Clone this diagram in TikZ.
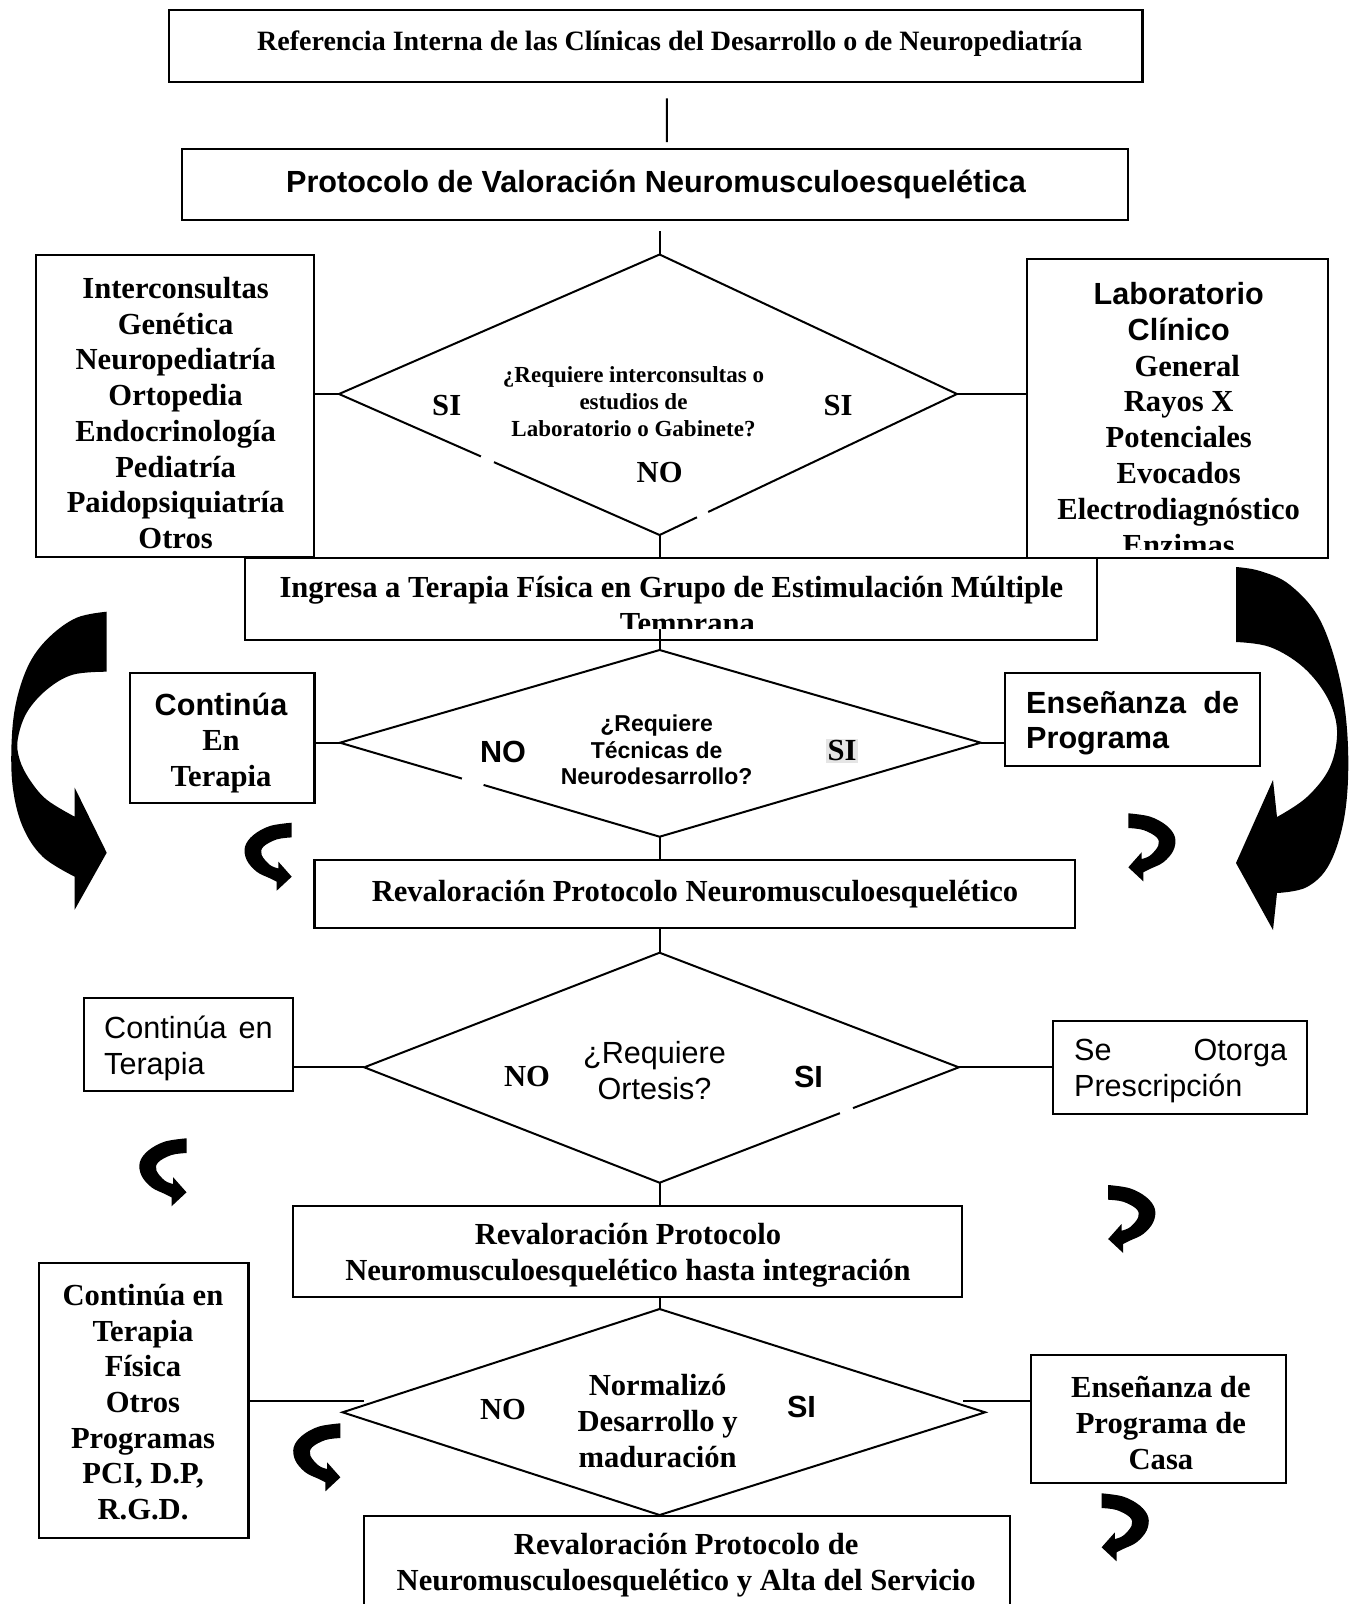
\documentclass[tikz,border=0pt]{standalone}
\usepackage{fontspec}
\setmainfont{Liberation Serif}
\newfontfamily\arialf{Liberation Sans}
\usetikzlibrary{calc}
\newcommand{\myarrowS}{\fill plot[smooth,tension=0.6] coordinates {(0,0) (21.7,3.3) (38.3,12.3) (46.7,24) (45,37.3) (35,49) (21.7,55.6) (15,59)} -- (15,68) -- (0,54) -- (13.3,39) -- plot[smooth,tension=0.6] coordinates {(13.3,45.7) (21.7,42.3) (30,32.3) (28.3,24) (15,16.7) (0,14.7)} -- cycle;}
\newcommand{\myarrowBL}{\fill plot[smooth,tension=0.6] coordinates {(0,0) (30,6) (57,25) (77,51) (90,88) (95,128) (94,175) (84,215) (64,245) (32,265)} -- (32,298) -- (0,241) -- (32,176) -- plot[smooth,tension=0.6] coordinates {(32,205) (60,188) (77,168) (87,148) (89,128) (80,101) (60,78) (34,63) (0,60)} -- cycle;}
\newcommand{\myarrowBR}{\fill plot[smooth,tension=0.6] coordinates {(0,0) (24,4) (54,18) (84,53) (104,113) (112,180) (109,246) (94,296) (71,320) (41,326)} -- (37,363) -- (0,296) -- (37,213) -- plot[smooth,tension=0.6] coordinates {(41,250) (71,230) (94,200) (101,163) (91,130) (67,100) (34,80) (0,75)} -- cycle;}
\begin{document}
\begin{tikzpicture}[x=1pt,y=-1pt,
  box/.style={draw, line width=2.2pt, inner sep=0, fill=white},
  conn/.style={line width=2pt},
  dia/.style={line width=2pt},
  gap/.style={white, line width=5pt},
  tbf/.style={inner sep=0, align=center, font=\fontsize{30.6}{35.7}\selectfont\bfseries},
  abf/.style={inner sep=0, align=center, font=\fontsize{30.6}{35.7}\selectfont\arialf\bfseries},
  arf/.style={inner sep=0, align=left, font=\fontsize{30.6}{36}\selectfont\arialf},
  qtb/.style={inner sep=0, align=center, font=\fontsize{23}{27}\selectfont\bfseries},
  qab/.style={inner sep=0, align=center, font=\fontsize{23}{26.6}\selectfont\arialf\bfseries}
]
\useasboundingbox (0,0) rectangle (1349,1604);
\fill[white] (0,0) rectangle (1349,1604);
\clip (0,0) rectangle (1349,1604);

% boxes
\node[box, minimum width=973.7pt, minimum height=71.6pt] (ref) at (655.55,46) {};
\node[box, minimum width=946pt, minimum height=70.6pt] (prot) at (655,184.6) {};
\node[box, minimum width=278.2pt, minimum height=302.7pt] (lbox1) at (174.9,406) {};
\node[box, minimum width=300.9pt, minimum height=299pt] (rbox1) at (1177.4,408.8) {};
\node[box, minimum width=852.2pt, minimum height=81.7pt] (ingresa) at (671.1,599.2) {};
\node[box, minimum width=184.4pt, minimum height=130.6pt] (lbox2) at (222.2,738) {};
\node[box, minimum width=254.7pt, minimum height=92.4pt] (rbox2) at (1132.4,719.5) {};
\node[box, minimum width=760.8pt, minimum height=68.3pt] (reval1) at (694.8,894.2) {};
\node[box, minimum width=209pt, minimum height=92.7pt] (lbox3) at (188.2,1044.7) {};
\node[box, minimum width=254pt, minimum height=93pt] (rbox3) at (1180.2,1067.5) {};
\node[box, minimum width=669.1pt, minimum height=90.7pt] (reval2) at (627.8,1251.3) {};
\node[box, minimum width=209.5pt, minimum height=275.6pt] (lbox4) at (143.8,1400.5) {};
\node[box, minimum width=254.8pt, minimum height=128.3pt] (rbox4) at (1158.7,1419.2) {};
\node[box, minimum width=645.9pt, minimum height=94pt] (reval3) at (687.25,1563) {};

% diamonds
\coordinate (d1t) at (659.6,254.5); \coordinate (d1l) at (339,394); \coordinate (d1r) at (957,394); \coordinate (d1b) at (659.6,535);
\coordinate (d2t) at (659.6,650); \coordinate (d2l) at (340,742.7); \coordinate (d2r) at (980.7,742.7); \coordinate (d2b) at (659.6,836.7);
\coordinate (d3t) at (659.6,952.7); \coordinate (d3l) at (364.3,1067.3); \coordinate (d3r) at (958.8,1067.3); \coordinate (d3b) at (659.6,1182.7);
\coordinate (d4t) at (659.6,1309); \coordinate (d4l) at (342.6,1412.3); \coordinate (d4r) at (985.1,1412.3); \coordinate (d4b) at (659.6,1515);
\coordinate (d4lc) at (364.3,1401); \coordinate (d4rc) at (963.2,1401);
\draw[dia] (d1t) -- (d1r) -- (d1b) -- (d1l) -- cycle;
\draw[dia] (d2t) -- (d2r) -- (d2b) -- (d2l) -- cycle;
\draw[dia] (d3t) -- (d3r) -- (d3b) -- (d3l) -- cycle;
\draw[dia] (d4t) -- (d4r) -- (d4b) -- (d4l) -- cycle;
% small breaks in the diamond edges
\draw[gap] ($(d1l)!0.443!(d1b)$) -- ($(d1l)!0.483!(d1b)$);
\draw[gap] ($(d1r)!0.837!(d1b)$) -- ($(d1r)!0.874!(d1b)$);
\draw[gap] ($(d2l)!0.382!(d2b)$) -- ($(d2l)!0.449!(d2b)$);
\draw[gap] ($(d3r)!0.354!(d3b)$) -- ($(d3r)!0.397!(d3b)$);

% connectors
\draw[conn] ([xshift=11.3pt,yshift=-15.4pt]ref.south) -- ([xshift=11.8pt,yshift=6.1pt]prot.north);
\draw[conn] ($(prot.south -| d1t)+(0,10)$) -- (d1t);
\draw[conn] (d1b) -- (ingresa.north -| d1b);
\draw[conn] (d2b) -- (reval1.north -| d2b);
\draw[conn] (reval1.south -| d3t) -- (d3t);
\draw[conn] (d3b) -- (reval2.north -| d3b);
\draw[conn] (reval2.south -| d4t) -- (d4t);
\draw[conn] (lbox1.east |- d1l) -- (d1l);
\draw[conn] (d1r) -- (rbox1.west |- d1r);
\draw[conn] (lbox2.east |- d2l) -- (d2l);
\draw[conn] (d2r) -- (rbox2.west |- d2r);
\draw[conn] (lbox3.east |- d3l) -- (d3l);
\draw[conn] (d3r) -- (rbox3.west |- d3r);
\draw[conn] (lbox4.east |- d4lc) -- (d4lc);
\draw[conn] (d4rc) -- (rbox4.west |- d4rc);

% texts
\node[inner sep=0, font=\fontsize{28}{32}\selectfont\bfseries] (t-ref) at (669.8,43.5) {Referencia Interna de las Clínicas del Desarrollo o de Neuropediatría};
\node[abf] (t-prot) at (656,184) {Protocolo de Valoración Neuromusculoesquelética};
\node[tbf] (t-l1) at (175.6,413) {Interconsultas\\Genética\\Neuropediatría\\Ortopedia\\Endocrinología\\Pediatría\\Paidopsiquiatría\\Otros};
\begin{scope}
\clip (1026.9,259.3) rectangle (1327.8,549);
\node[tbf, font=\fontsize{30.6}{35.9}\selectfont\bfseries] (t-r1) at (1178.7,419) {{\arialf Laboratorio}\\{\arialf Clínico}\\\hspace*{17pt}General\\Rayos X\\Potenciales\\Evocados\\Electrodiagnóstico\\Enzimas};
\end{scope}
\node[qtb] (q1) at (633.5,401.5) {¿Requiere interconsultas o\\estudios de\\Laboratorio o Gabinete?};
\node[tbf] (si1l) at (446.7,406) {SI};
\node[tbf] (si1r) at (838,406) {SI};
\node[tbf] (no1) at (659.6,473) {NO};
\begin{scope}
\clip (245,558.3) rectangle (1097.2,628.5);
\node[tbf] (t-ing) at (671.4,608) {Ingresa a Terapia Física en Grupo de Estimulación Múltiple\\\hspace*{32pt}Temprana};
\end{scope}
\draw[conn] ($(ingresa.south -| d2t)+(0,-12)$) -- (d2t);
\node[tbf] (t-l2) at (221,743) {{\arialf Continúa}\\En\\Terapia};
\node[abf, align=left, anchor=west] (t-r2) at (1026,723) {\makebox[213pt][s]{Enseñanza de}\\Programa};
\node[qab] (q2) at (656.6,750) {¿Requiere\\Técnicas de\\Neurodesarrollo?};
\node[abf] (no2) at (503,752) {NO};
\node[tbf, fill=black!10, inner sep=2pt] (si2) at (842,751) {SI};
\node[tbf] (t-rv1) at (695,894) {Revaloración Protocolo Neuromusculoesquelético};
\node[arf, align=center] (q3) at (654.5,1071) {¿Requiere\\Ortesis?};
\node[tbf] (no3) at (527,1077) {NO};
\node[abf] (si3) at (808.5,1077) {SI};
\node[arf, anchor=west] (t-l3) at (104,1048) {\makebox[168.5pt][s]{Continúa en}\\Terapia};
\node[arf, anchor=west] (t-r3) at (1073.9,1071) {\makebox[213pt][s]{Se Otorga}\\Prescripción};
\node[tbf] (t-rv2) at (628,1255) {Revaloración Protocolo\\Neuromusculoesquelético hasta integración};
\node[tbf] (q4) at (657.6,1421) {Normalizó\\Desarrollo y\\maduración};
\node[tbf] (no4) at (503,1409) {NO};
\node[abf] (si4) at (801.5,1407) {SI};
\node[tbf] (t-l4) at (143,1402) {Continúa en\\Terapia\\Física\\Otros\\Programas\\PCI, D.P,\\R.G.D.};
\node[tbf] (t-r4) at (1160.9,1423) {Enseñanza de\\Programa de\\Casa};
\node[tbf] (t-rv3) at (686.2,1565) {Revaloración Protocolo de\\Neuromusculoesquelético y Alta del Servicio};

% curved arrows
\begin{scope}[shift={(106.7,611.7)},xscale=-1]\myarrowBL\end{scope}
\begin{scope}[shift={(1236,567)}]\myarrowBR\end{scope}
\begin{scope}[shift={(291.7,822.7)},xscale=-1]\myarrowS\end{scope}
\begin{scope}[shift={(1128.3,813.3)}]\myarrowS\end{scope}
\begin{scope}[shift={(186.5,1138.3)},xscale=-1]\myarrowS\end{scope}
\begin{scope}[shift={(1108.2,1185)}]\myarrowS\end{scope}
\begin{scope}[shift={(340.4,1423.3)},xscale=-1]\myarrowS\end{scope}
\begin{scope}[shift={(1101.6,1493.3)}]\myarrowS\end{scope}
\end{tikzpicture}
\end{document}
